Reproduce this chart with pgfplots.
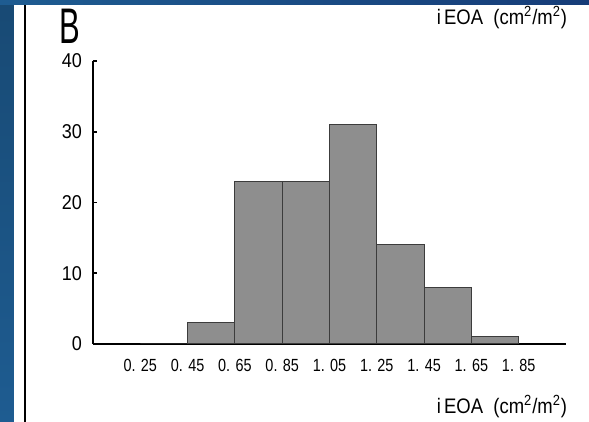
\documentclass[border=0pt]{standalone}
\usepackage{fontspec}
\setmainfont{Liberation Sans}
\usepackage{pgfplots}
\pgfplotsset{compat=1.18}
\definecolor{bgblue}{RGB}{30,92,145}
\definecolor{topblue}{RGB}{22,60,120}
\definecolor{bargray}{RGB}{142,142,142}
\definecolor{edgegray}{RGB}{60,60,60}
\begin{document}
\begin{tikzpicture}
\useasboundingbox (0,0) rectangle (294.5pt,211pt);
\shade[top color=bgblue!80!black, bottom color=bgblue] (0,0) rectangle (294.5pt,211pt);
\shade[left color=bgblue, right color=topblue] (0,208.5pt) rectangle (294.5pt,211pt);
\fill[white] (7pt,0) rectangle (294.5pt,208.5pt);
\draw[black,line width=1pt] (12.5pt,0) -- (12.5pt,208.5pt);
\begin{axis}[
  at={(46.5pt,39pt)}, anchor=south west,
  scale only axis, width=236.5pt, height=141.5pt,
  xmin=0.05, xmax=2.05, ymin=0, ymax=40,
  axis x line*=bottom, axis y line*=left,
  axis line style={line width=1pt},
  xtick={0.25,0.45,0.65,0.85,1.05,1.25,1.45,1.65,1.85},
  xticklabels={0. 25,0. 45,0. 65,0. 85,1. 05,1. 25,1. 45,1. 65,1. 85},
  ytick={0,10,20,30,40},
  x tick style={draw=none},
  y tick style={line width=0.8pt,black},
  tick align=inside, major tick length=2pt,
  ticklabel style={font=\fontsize{10}{11}\selectfont},
  xticklabel style={font=\fontsize{8.8}{10}\selectfont, xscale=0.82, yshift=-4pt},
  yticklabel style={xscale=0.9, xshift=-5pt, inner sep=1pt},
  /pgf/number format/assume math mode=true,
  clip=false,
]
\addplot[ybar interval, fill=bargray, draw=edgegray, line width=0.5pt]
  coordinates {(0.25,0) (0.45,3) (0.65,23) (0.85,23) (1.05,31) (1.25,14) (1.45,8) (1.65,1) (1.85,1)};
\end{axis}
\node[font=\fontsize{25}{27}\selectfont, xscale=0.62, inner sep=0pt, anchor=base] at (35pt,189pt) {B};
\node[font=\fontsize{10.5}{12}\selectfont, xscale=0.88] at (251pt,202pt) {i\,EOA\ \ (cm\textsuperscript{2}/m\textsuperscript{2})};
\node[font=\fontsize{10.5}{12}\selectfont, xscale=0.88] at (251pt,7.5pt) {i\,EOA\ \ (cm\textsuperscript{2}/m\textsuperscript{2})};
\end{tikzpicture}
\end{document}
